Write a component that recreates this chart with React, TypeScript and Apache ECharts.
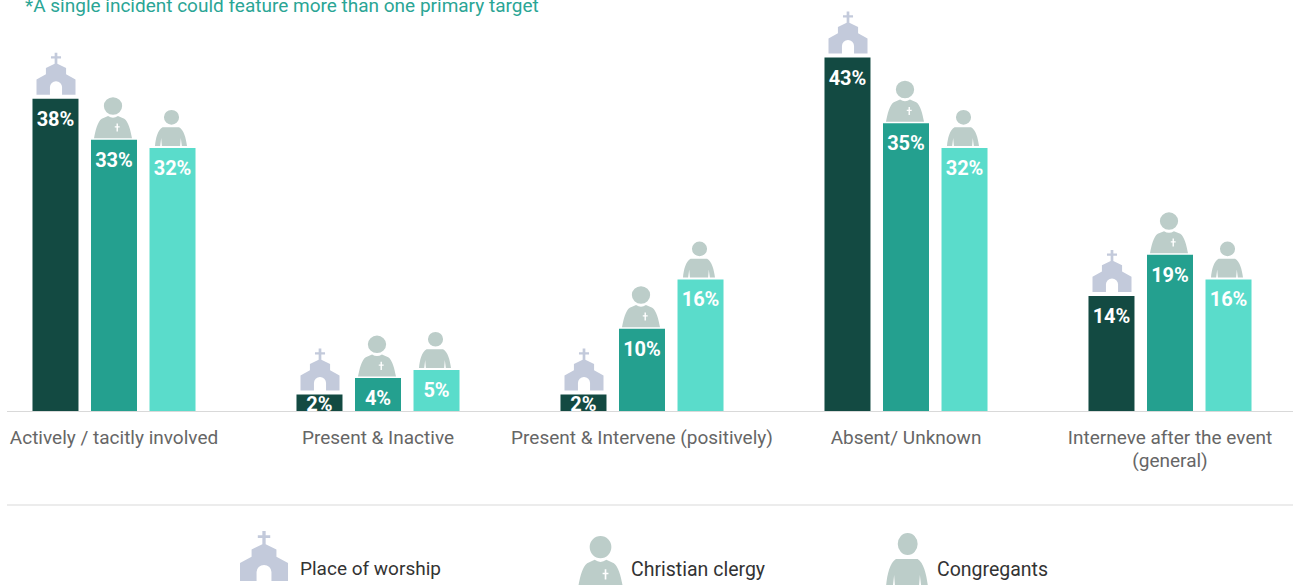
import React, { useEffect, useRef } from "react";
import * as echarts from "echarts";

const categories = [
  "Actively / tacitly involved",
  "Present & Inactive",
  "Present & Intervene (positively)",
  "Absent/ Unknown",
  "Interneve after the event\n(general)",
];
const placeOfWorship = [38, 2, 2, 43, 14];
const christianClergy = [33, 4, 10, 35, 19];
const congregants = [32, 5, 16, 32, 16];
const noteText = "*A single incident could feature more than one primary target";

const FONT = "Roboto";
const COLORS = ["#134a42", "#24a08f", "#5adccb"];
const ICON_CHURCH = "#c3cadb";
const ICON_PERSON = "#bccdc9";

const churchPath =
  "M54 0H62V11H73V18H62V34L88 47V66L116 82V128H76V105A18 18 0 0 0 40 105V128H0V82L28 66V47L54 34V18H43V11H54Z";
const clergyPath =
  "M28 26A26 26 0 1 1 80 26A26 26 0 1 1 28 26Z" +
  "M0 122C4 100 10 72 22 64L40 56Q54 66 68 56L86 64C98 72 104 100 108 122Z" +
  "M64 78V86H59V90H64V102H68V90H73V86H68V78Z";
const congregantPath =
  "M26 22A22 22 0 1 1 70 22A22 22 0 1 1 26 22Z" +
  "M0 108C2 85 8 60 22 52H70C84 60 90 85 93 108H78L75 84L73 108H20L18 84L15 108Z";

echarts.graphic.registerShape("churchIcon", echarts.graphic.extendPath(churchPath, {}));
echarts.graphic.registerShape("clergyIcon", echarts.graphic.extendPath(clergyPath, {}));
echarts.graphic.registerShape("congregantIcon", echarts.graphic.extendPath(congregantPath, {}));

export default function App() {
  const ref = useRef<HTMLDivElement>(null);
  useEffect(() => {
    document.body.style.margin = "0";
    const chart = echarts.init(ref.current!, undefined, { renderer: "svg" });

    const barSeries = (name: string, data: number[], color: string) => ({
      name,
      type: "bar",
      data: data.map((v) => (v <= 2 ? { value: v, label: { distance: -1 } } : v)),
      barWidth: 46,
      barGap: "27.2%",
      itemStyle: { color },
      label: {
        show: true,
        position: "insideTop",
        distance: 10,
        formatter: "{c}%",
        color: "#ffffff",
        fontFamily: FONT,
        fontWeight: 700,
        fontSize: 20,
      },
      z: 2,
    });
    const iconSeries = (
      name: string,
      data: number[],
      path: string,
      size: number[],
      offset: number[],
      color: string
    ) => ({
      name: name + " icon",
      type: "scatter",
      data: data.map((v, i) => [i, v]),
      symbol: "path://" + path,
      symbolSize: size,
      symbolOffset: offset,
      itemStyle: { color, opacity: 1 },
      silent: true,
      clip: false,
      z: 3,
    });

    const legendText = (text: string, x: number, y: number, size: number) => ({
      type: "text",
      x,
      y,
      style: {
        text,
        fill: "#333333",
        font: `${size}px ${FONT}`,
        textAlign: "left",
        textVerticalAlign: "middle",
      },
    });

    chart.setOption({
      animation: false,
      title: {
        text: noteText,
        left: 25,
        top: -4,
        padding: 0,
        textStyle: { color: "#2aa595", fontFamily: FONT, fontSize: 19, fontWeight: 400 },
      },
      grid: { left: -18, width: 1320, top: 0, height: 411, outerBoundsMode: "none" },
      xAxis: {
        type: "category",
        data: categories,
        axisLine: { show: false },
        axisTick: { show: false },
        axisLabel: {
          interval: 0,
          margin: 15,
          color: "#666666",
          fontFamily: FONT,
          fontSize: 19,
          lineHeight: 23,
        },
      },
      yAxis: { type: "value", min: 0, max: 50, show: false, splitLine: { show: false } },
      series: [
        barSeries("Place of worship", placeOfWorship, COLORS[0]),
        barSeries("Christian clergy", christianClergy, COLORS[1]),
        barSeries("Congregants", congregants, COLORS[2]),
        iconSeries("Place of worship", placeOfWorship, churchPath, [39, 42], [-58, -25], ICON_CHURCH),
        iconSeries("Christian clergy", christianClergy, clergyPath, [38, 41], [-1, -22], ICON_PERSON),
        iconSeries("Congregants", congregants, congregantPath, [32, 36], [57, -20], ICON_PERSON),
      ],
      graphic: [
        { type: "line", shape: { x1: 7, y1: 411.5, x2: 1293, y2: 411.5 }, style: { stroke: "#d9d9d9", lineWidth: 1 } },
        { type: "line", shape: { x1: 7, y1: 505, x2: 1293, y2: 505 }, style: { stroke: "#e6e6e6", lineWidth: 1.5 } },
        { type: "churchIcon", x: 240, y: 531, scaleX: 48 / 116, scaleY: 50 / 128, style: { fill: ICON_CHURCH } },
        { type: "clergyIcon", x: 578, y: 536, scaleX: 45 / 108, scaleY: 52 / 122, style: { fill: ICON_PERSON } },
        { type: "congregantIcon", x: 886, y: 533, scaleX: 42 / 93, scaleY: 54 / 108, style: { fill: ICON_PERSON } },
        legendText("Place of worship", 300, 568, 19),
        legendText("Christian clergy", 631, 569, 19.5),
        legendText("Congregants", 937, 569, 19.5),
      ],
    });
    return () => chart.dispose();
  }, []);
  return (
    <div
      ref={ref}
      style={{ position: "absolute", left: 0, top: 0, width: 1293, height: 585, background: "#ffffff", overflow: "hidden" }}
    />
  );
}
